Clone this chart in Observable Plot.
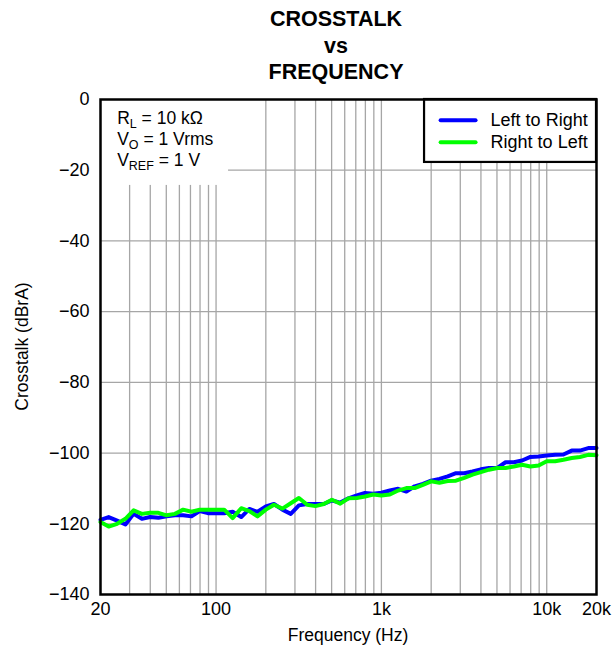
<!DOCTYPE html>
<html>
<head>
<meta charset="utf-8">
<script src="https://cdn.jsdelivr.net/npm/d3@7"></script>
<script src="https://cdn.jsdelivr.net/npm/@observablehq/plot@0.6"></script>
<style>
  html, body { margin: 0; padding: 0; background: #fff; }
  #wrap { position: relative; width: 614px; height: 652px; font-family: "Liberation Sans", Arial, sans-serif; }
  #title { position: absolute; left: 216px; width: 240px; top: 6px; text-align: center; font-weight: bold; font-size: 21.5px; line-height: 26.5px; color: #000; }
  #chart { position: absolute; left: 0; top: 90px; }
</style>
</head>
<body>
<div id="wrap">
  <div id="title">CROSSTALK<br>vs<br>FREQUENCY</div>
  <div id="chart"></div>
</div>
<script>
const freqs = [20, 22.4, 25.2, 28.3, 31.7, 35.6, 39.9, 44.8, 50.2, 56.4, 63.2, 71.0, 79.6, 89.3, 100, 112, 126, 142, 159, 178,
  200, 224, 252, 283, 317, 356, 399, 448, 502, 564, 632, 710, 796, 893, 1000, 1125, 1262, 1416, 1589, 1783,
  2000, 2244, 2518, 2825, 3170, 3557, 3991, 4477, 5024, 5637, 6325, 7096, 7962, 8934, 10000, 11247, 12619, 14159, 15887, 17825, 20000];

const leftToRight = [-118.9, -118.1, -119.1, -120.2, -117.2, -118.6, -118.1, -118.3, -117.9, -117.6, -117.6, -117.9, -116.4, -117.0, -117.0, -117.0, -116.6, -118.1, -115.8, -116.6,
  -115.1, -114.4, -116.0, -117.2, -114.8, -114.4, -114.4, -114.4, -113.4, -114.0, -112.8,
  -112.0, -111.3, -111.5, -111.2, -110.6, -110.1, -110.9, -109.4, -108.7, -107.8, -107.3, -106.6, -105.7, -105.7, -105.2, -104.6, -104.2, -104.2, -102.6, -102.6,
  -102.1, -101.1, -101.0, -100.7, -100.5, -100.4, -99.3, -99.3, -98.6, -98.6];

const rightToLeft = [-119.5, -120.8, -120.0, -118.6, -116.2, -117.2, -116.9, -116.9, -117.6, -117.2, -116.0, -116.6, -116.0, -116.0, -116.0, -116.0, -118.4, -115.6, -116.4, -117.9,
  -116.0, -114.6, -115.7, -114.2, -112.7, -114.6, -115.0, -114.4, -113.2, -114.3, -112.8,
  -112.7, -112.3, -111.7, -112.0, -111.7, -110.6, -109.9, -109.9, -109.0, -108.0, -108.4, -107.9, -107.8, -107.0, -106.1, -105.4, -104.7, -104.2, -104.2, -103.8,
  -103.3, -103.8, -103.5, -102.3, -102.3, -101.9, -101.4, -101.1, -100.5, -100.6];

const seriesNames = ["Left to Right", "Right to Left"];
const seriesColors = ["#0000ff", "#00ff00"];

const xTicks = [20, 100, 1000, 10000, 20000];
const yTicks = [0, -20, -40, -60, -80, -100, -120, -140];
const xGrid = [30, 40, 50, 60, 70, 80, 90, 100, 200, 300, 400, 500, 600, 700, 800, 900, 1000, 2000, 3000, 4000, 5000, 6000, 7000, 8000, 9000, 10000];
const yGrid = [-20, -40, -60, -80, -100, -120];
const xLabel = "Frequency (Hz)";
const yLabel = "Crosstalk (dBrA)";

const condLines = [
  {main: "R", sub: "L", rest: " = 10 kΩ"},
  {main: "V", sub: "O", rest: " = 1 Vrms"},
  {main: "V", sub: "REF", rest: " = 1 V"}
];

const rows = [];
freqs.forEach((f, i) => rows.push({f, v: leftToRight[i], s: seriesNames[0]}));
freqs.forEach((f, i) => rows.push({f, v: rightToLeft[i], s: seriesNames[1]}));

// annotation / legend boxes in data units
const condBox = {x1: 20, x2: 119, y1: 0, y2: -24.3};
const legBox = {x1: 1824, x2: 20000, y1: 0, y2: -17.8};
const legItems = seriesNames.map((s, i) => ({s, x1: 2281, x2: 3712, xt: 4576, y: [-5.9, -12.1][i]}));

const plot = Plot.plot({
  width: 614,
  height: 562,
  marginLeft: 100,
  marginRight: 18,
  marginTop: 9,
  marginBottom: 58,
  style: {fontFamily: "'Liberation Sans', Arial, sans-serif", fontSize: "18px", color: "#000", background: "#fff"},
  x: {type: "log", domain: [20, 20000], ticks: xTicks, tickFormat: d => d >= 1000 ? (d / 1000) + "k" : String(d), tickSize: 0, tickPadding: 8, label: null},
  y: {domain: [-140, 0], ticks: yTicks, tickSize: 0, tickPadding: 11, label: null},
  color: {domain: seriesNames, range: seriesColors},
  marks: [
    Plot.ruleX(xGrid, {stroke: "#a6a6a6", strokeWidth: 1.3}),
    Plot.ruleY(yGrid, {stroke: "#a6a6a6", strokeWidth: 1.3}),
    Plot.rect([condBox], {x1: "x1", x2: "x2", y1: "y1", y2: "y2", fill: "#fff"}),
    Plot.rect([legBox], {x1: "x1", x2: "x2", y1: "y1", y2: "y2", fill: "#fff", stroke: "#000", strokeWidth: 2.2}),
    Plot.line(rows, {x: "f", y: "v", z: "s", stroke: "s", strokeWidth: 4, strokeLinejoin: "round"}),
    Plot.link(legItems, {x1: "x1", x2: "x2", y1: "y", y2: "y", stroke: "s", strokeWidth: 4, strokeLinecap: "round"}),
    Plot.text(legItems, {x: "xt", y: "y", text: "s", textAnchor: "start", fontSize: 18, fill: "#000"}),
    Plot.frame({stroke: "#000", strokeWidth: 2.5})
  ]
});

document.getElementById("chart").appendChild(plot);

const sx = plot.scale("x"), sy = plot.scale("y");
const svg = d3.select(plot);

// axis labels
const xMid = (sx.apply(20) + sx.apply(20000)) / 2;
const yMid = (sy.apply(0) + sy.apply(-140)) / 2;
svg.append("text").attr("x", xMid).attr("y", 545).attr("dy", "0.32em")
  .attr("text-anchor", "middle").attr("font-size", 17.5).attr("fill", "#000").text(xLabel);
svg.append("text").attr("transform", `translate(22,${yMid}) rotate(-90)`).attr("dy", "0.32em")
  .attr("text-anchor", "middle").attr("font-size", 17.5).attr("fill", "#000").text(yLabel);

// condition annotation with subscripts
const condY = [-5.4, -11.5, -17.4];
const g = svg.append("g").attr("font-size", 17.5).attr("fill", "#000").attr("text-anchor", "start");
condLines.forEach((c, i) => {
  const t = g.append("text")
    .attr("x", sx.apply(25.4))
    .attr("y", sy.apply(condY[i]))
    .attr("dy", "0.32em");
  t.append("tspan").text(c.main);
  t.append("tspan").attr("font-size", 12.5).attr("dy", 4).text(c.sub);
  t.append("tspan").attr("dy", -4).text(c.rest);
});
</script>
</body>
</html>
